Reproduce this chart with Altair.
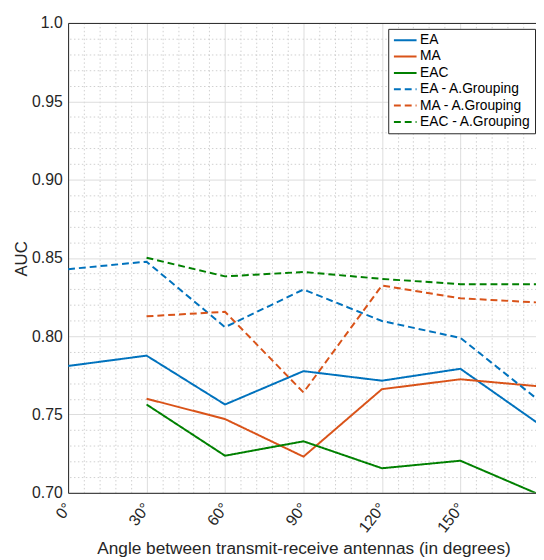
import altair as alt
import pandas as pd

angles = [0, 30, 60, 90, 120, 150, 180]

series_names = ["EA", "MA", "EAC",
                "EA - A.Grouping", "MA - A.Grouping", "EAC - A.Grouping"]
series_colors = ["#0072BD", "#D95319", "#008000",
                 "#0072BD", "#D95319", "#008000"]
series_dash = [[1, 0], [1, 0], [1, 0], [7, 4], [7, 4], [7, 4]]

ea = [0.781, 0.7876, 0.7564, 0.7777, 0.7716, 0.7792, 0.744]
ma = [None, 0.7601, 0.7471, 0.7231, 0.7662, 0.7725, 0.768]
eac = [None, 0.7564, 0.7237, 0.7329, 0.7157, 0.7205, 0.699]
ea_g = [0.8428, 0.8476, 0.8058, 0.8298, 0.8097, 0.7989, 0.759]
ma_g = [None, 0.8127, 0.8156, 0.7641, 0.8324, 0.8242, 0.8215]
eac_g = [None, 0.8501, 0.8382, 0.8410, 0.8366, 0.8332, 0.8332]

all_series = [ea, ma, eac, ea_g, ma_g, eac_g]

x_major = [0, 30, 60, 90, 120, 150, 180]
y_major = [0.70, 0.75, 0.80, 0.85, 0.90, 0.95, 1.0]
x_minor = [6, 12, 18, 24, 36, 42, 48, 54, 66, 72, 78, 84, 96, 102, 108, 114,
           126, 132, 138, 144, 156, 162, 168, 174]
y_minor = [0.71, 0.72, 0.73, 0.74, 0.76, 0.77, 0.78, 0.79, 0.81, 0.82, 0.83,
           0.84, 0.86, 0.87, 0.88, 0.89, 0.91, 0.92, 0.93, 0.94, 0.96, 0.97,
           0.98, 0.99]

rows = []
for name, vals in zip(series_names, all_series):
    for a, v in zip(angles, vals):
        if v is not None:
            rows.append({"angle": a, "auc": v, "series": name})
df = pd.DataFrame(rows)

FONT = "Liberation Sans"
TXT = "#262626"

x_scale = alt.Scale(domain=[0, 178.9], nice=False, zero=False)
y_scale = alt.Scale(domain=[0.70, 1.0], nice=False, zero=False)

lines = alt.Chart(df).mark_line(strokeWidth=2, clip=True).encode(
    x=alt.X("angle:Q", scale=x_scale,
            axis=alt.Axis(values=x_major, orient="bottom", grid=True,
                          gridColor="#dcdcdc", gridWidth=1,
                          labelExpr="datum.value + '°'",
                          labelAngle=308, labelAlign="right",
                          labelBaseline="middle", labelPadding=12,
                          labelFontSize=16, labelFont=FONT, labelColor=TXT,
                          ticks=False, domainColor=TXT, domainWidth=1,
                          title="Angle between transmit-receive antennas (in degrees)",
                          titleFont=FONT, titleFontSize=17.5,
                          titleFontWeight="normal", titleColor=TXT,
                          titleAnchor="middle", titleX=239, titleY=62,
                          titleBaseline="alphabetic")),
    y=alt.Y("auc:Q", scale=y_scale,
            axis=alt.Axis(values=y_major, orient="left", grid=True,
                          gridColor="#dcdcdc", gridWidth=1,
                          labelExpr="datum.value >= 0.999 ? '1.0' : format(datum.value, '.2f')",
                          labelPadding=6, labelFontSize=16, labelFont=FONT,
                          labelColor=TXT, ticks=False, domainColor=TXT,
                          domainWidth=1, title="AUC", titleFont=FONT,
                          titleFontSize=17, titleFontWeight="normal",
                          titleColor=TXT, titleAngle=270, titleX=-42,
                          titleY=239, titleAnchor="middle",
                          titleBaseline="alphabetic")),
    color=alt.Color("series:N",
                    scale=alt.Scale(domain=series_names, range=series_colors),
                    legend=alt.Legend(orient="none", legendX=325, legendY=6,
                                      title=None, strokeColor=TXT,
                                      fillColor="white", padding=4.5,
                                      rowPadding=2.6, labelFontSize=14,
                                      labelFont=FONT, labelColor="#000000",
                                      symbolType="M-2,0H2", symbolSize=132,
                                      symbolStrokeWidth=2, symbolOffset=5.75,
                                      labelOffset=8, cornerRadius=0)),
    strokeDash=alt.StrokeDash("series:N",
                              scale=alt.Scale(domain=series_names,
                                              range=series_dash),
                              legend=alt.Legend(orient="none", legendX=325,
                                                legendY=6, title=None)),
    detail="series:N",
)

minor = alt.Chart(df).mark_line(opacity=0, clip=True).encode(
    x=alt.X("angle:Q", scale=x_scale,
            axis=alt.Axis(values=x_minor, orient="top", grid=True,
                          gridColor="#cfcfcf", gridDash=[1.5, 2.5],
                          gridWidth=1, labels=False, ticks=False,
                          domain=True, domainColor=TXT, domainWidth=1,
                          title=None)),
    y=alt.Y("auc:Q", scale=y_scale,
            axis=alt.Axis(values=y_minor, orient="right", grid=True,
                          gridColor="#cfcfcf", gridDash=[1.5, 2.5],
                          gridWidth=1, labels=False, ticks=False,
                          domain=False, title=None)),
    detail="series:N",
)

chart = alt.layer(minor, lines).resolve_axis(
    x="independent", y="independent"
).properties(
    width=475, height=477,
    autosize=alt.AutoSizeParams(type="none"),
    padding={"left": 61, "top": 11, "right": 0, "bottom": 64},
).configure_view(stroke=None).configure(background="white")

chart.save("out.html", embed_options={"renderer": "svg", "actions": False})
